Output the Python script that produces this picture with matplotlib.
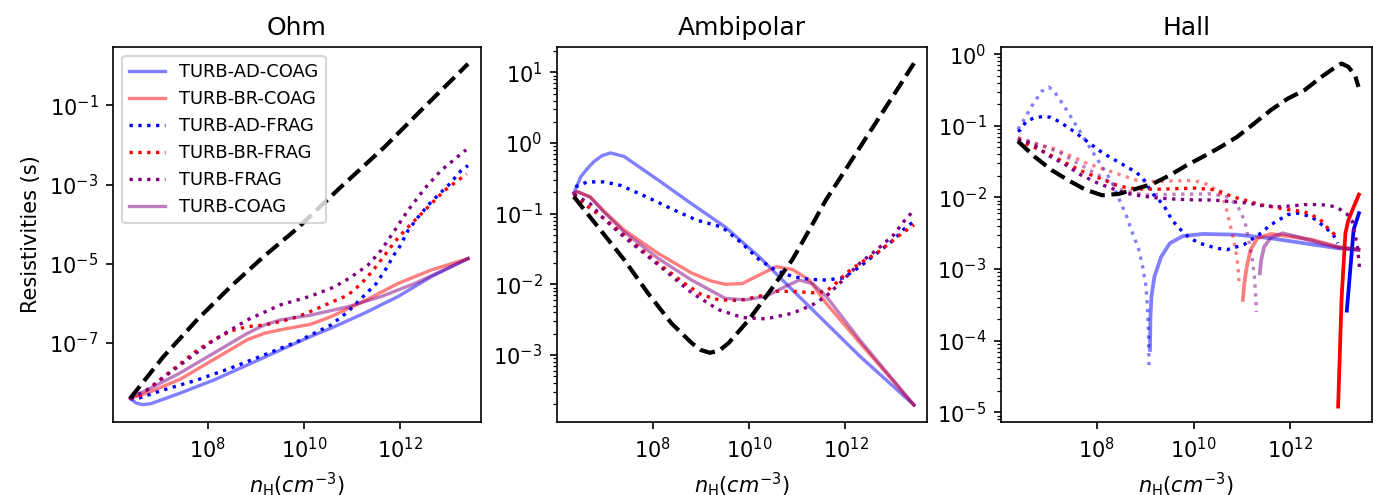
import numpy as np
import matplotlib
matplotlib.use("Agg")
import matplotlib.pyplot as plt
from matplotlib.ticker import FixedLocator, NullLocator

# ---------------- data (log10 n_H , log10 resistivity) ----------------
MODELS = ["TURB-AD-COAG", "TURB-BR-COAG", "TURB-AD-FRAG", "TURB-BR-FRAG", "TURB-FRAG", "TURB-COAG"]
COLORS = ["blue", "red", "blue", "red", "purple", "purple"]
ALPHAS = [0.5, 0.5, 1.0, 1.0, 1.0, 0.5]
STYLES = ["-", "-", ":", ":", ":", "-"]

# --- Ohm ---
OHM_REF_X = [6.38, 7.07, 7.77, 8.47, 9.16, 9.86, 10.77, 11.68, 12.51, 13.42]
OHM_REF_Y = [-8.40, -7.35, -6.42, -5.58, -4.82, -4.11, -3.06, -2.05, -1.04, 0.05]
OHM_AD_COAG_X = [6.38, 6.50, 6.63, 6.80, 7.08, 7.42, 8.12, 8.82, 9.51, 10.14, 10.56, 11.26, 11.96, 12.65, 13.42]
OHM_AD_COAG_Y = [-8.40, -8.52, -8.56, -8.54, -8.42, -8.27, -7.94, -7.56, -7.18, -6.84, -6.63, -6.25, -5.83, -5.33, -4.87]
OHM_BR_COAG_X = [6.38, 6.73, 7.42, 8.12, 8.82, 9.17, 9.51, 10.14, 10.56, 11.26, 11.96, 12.65, 13.42]
OHM_BR_COAG_Y = [-8.40, -8.27, -7.92, -7.42, -6.92, -6.76, -6.67, -6.53, -6.34, -5.94, -5.50, -5.16, -4.87]
OHM_AD_FRAG_X = [6.38, 6.55, 7.07, 7.77, 8.47, 9.16, 9.86, 10.56, 10.91, 11.26, 11.50, 11.71, 11.89, 11.99, 12.17, 12.38, 12.65, 13.04, 13.28, 13.42]
OHM_AD_FRAG_Y = [-8.42, -8.40, -8.19, -7.94, -7.64, -7.31, -6.97, -6.55, -6.22, -5.80, -5.51, -5.13, -4.75, -4.58, -4.16, -3.82, -3.44, -2.98, -2.64, -2.52]
OHM_BR_FRAG_X = [6.38, 6.56, 7.08, 7.43, 7.78, 8.12, 8.47, 8.82, 9.17, 9.52, 9.87, 10.21, 10.56, 10.91, 11.19, 11.44, 11.68, 11.89, 12.10, 12.38, 12.65, 12.93, 13.39]
OHM_BR_FRAG_Y = [-8.40, -8.36, -7.85, -7.52, -7.18, -6.93, -6.70, -6.59, -6.55, -6.46, -6.34, -6.17, -5.98, -5.80, -5.51, -5.17, -4.79, -4.45, -4.16, -3.82, -3.49, -3.15, -2.73]
OHM_TURB_FRAG_X = [6.38, 6.73, 7.42, 8.12, 8.82, 9.51, 10.14, 10.63, 10.98, 11.33, 11.61, 11.89, 12.17, 12.51, 12.86, 13.32, 13.38]
OHM_TURB_FRAG_Y = [-8.40, -8.19, -7.56, -6.93, -6.42, -6.04, -5.82, -5.59, -5.34, -5.04, -4.66, -4.16, -3.65, -3.11, -2.64, -2.18, -2.12]
OHM_TURB_COAG_X = [6.38, 6.73, 7.42, 8.12, 8.82, 9.17, 9.51, 10.14, 10.91, 11.61, 12.31, 13.42]
OHM_TURB_COAG_Y = [-8.40, -8.19, -7.76, -7.26, -6.76, -6.55, -6.42, -6.30, -6.09, -5.83, -5.50, -4.87]

# --- Ambipolar ---
AMB_REF_X = [6.37, 6.92, 7.41, 7.90, 8.39, 8.81, 9.0, 9.19, 9.38, 9.58, 10.0, 10.41, 10.90, 11.25, 11.60, 12.30, 13.00, 13.42]
AMB_REF_Y = [-0.76, -1.23, -1.65, -2.12, -2.55, -2.83, -2.93, -2.97, -2.94, -2.83, -2.50, -2.12, -1.65, -1.23, -0.80, -0.06, 0.68, 1.13]
AMB_AD_COAG_X = [6.37, 6.51, 6.65, 6.79, 6.95, 7.13, 7.41, 8.11, 8.81, 9.51, 10.21, 10.90, 11.60, 12.30, 13.42]
AMB_AD_COAG_Y = [-0.71, -0.48, -0.36, -0.26, -0.18, -0.14, -0.19, -0.52, -0.86, -1.19, -1.61, -2.08, -2.55, -3.02, -3.71]
AMB_BR_COAG_X = [6.37, 6.45, 6.71, 7.0, 7.41, 8.11, 8.81, 9.2, 9.51, 9.86, 10.21, 10.56, 10.90, 11.25, 11.60, 12.30, 13.42]
AMB_BR_COAG_Y = [-0.71, -0.69, -0.76, -0.97, -1.23, -1.56, -1.84, -1.95, -2.0, -1.99, -1.87, -1.75, -1.79, -1.94, -2.27, -2.83, -3.71]
AMB_AD_FRAG_X = [6.40, 6.65, 6.99, 7.34, 7.87, 8.39, 8.91, 9.44, 9.82, 10.21, 10.55, 10.90, 11.25, 11.60, 11.95, 12.30, 12.65, 13.00, 13.21, 13.42]
AMB_AD_FRAG_Y = [-0.62, -0.55, -0.55, -0.60, -0.76, -0.93, -1.09, -1.19, -1.40, -1.65, -1.80, -1.89, -1.93, -1.94, -1.91, -1.75, -1.56, -1.37, -1.22, -1.11]
AMB_BR_FRAG_X = [6.37, 6.58, 7.0, 7.41, 8.11, 8.67, 9.02, 9.37, 9.79, 10.21, 10.56, 10.90, 11.32, 11.60, 11.81, 12.02, 12.30, 12.65, 13.00, 13.21, 13.42]
AMB_BR_FRAG_Y = [-0.73, -0.86, -1.07, -1.30, -1.70, -1.99, -2.15, -2.22, -2.23, -2.17, -2.10, -2.10, -2.12, -2.10, -1.98, -1.84, -1.70, -1.56, -1.37, -1.26, -1.16]
AMB_TURB_FRAG_X = [6.37, 6.71, 7.0, 7.41, 8.11, 8.81, 9.37, 9.86, 10.35, 10.90, 11.32, 11.60, 11.95, 12.30, 12.65, 13.00, 13.21, 13.42]
AMB_TURB_FRAG_Y = [-0.73, -0.86, -1.08, -1.33, -1.72, -2.12, -2.36, -2.47, -2.49, -2.41, -2.29, -2.17, -1.94, -1.70, -1.51, -1.30, -1.11, -0.95]
AMB_TURB_COAG_X = [6.37, 6.45, 6.71, 7.0, 7.41, 8.11, 8.81, 9.51, 9.93, 10.35, 10.76, 11.04, 11.32, 11.60, 12.30, 13.42]
AMB_TURB_COAG_Y = [-0.71, -0.69, -0.77, -0.98, -1.26, -1.63, -1.94, -2.20, -2.22, -2.17, -2.03, -1.94, -1.99, -2.17, -2.79, -3.71]

# --- Hall (|eta_H|; dotted = negative branch, solid = positive branch) ---
HALL_REF_X = [6.37, 6.72, 7.07, 7.41, 7.76, 8.11, 8.46, 8.81, 9.16, 9.51, 9.86, 10.20, 10.55, 10.90, 11.25, 11.60, 11.95, 12.30, 12.64, 12.99, 13.06, 13.20, 13.34, 13.41]
HALL_REF_Y = [-1.215, -1.434, -1.62, -1.76, -1.89, -1.97, -1.95, -1.88, -1.81, -1.69, -1.55, -1.43, -1.30, -1.155, -0.97, -0.78, -0.62, -0.50, -0.32, -0.154, -0.131, -0.177, -0.294, -0.457]

HALL_AD_COAG_NEG_X = [6.37, 6.47, 6.65, 6.86, 7.01, 7.13, 7.30, 7.47, 7.68, 7.89, 8.10, 8.31, 8.46, 8.62, 8.74, 8.87, 8.95, 9.02, 9.05, 9.07, 9.08]
HALL_AD_COAG_NEG_Y = [-1.05, -0.945, -0.73, -0.52, -0.46, -0.53, -0.70, -0.88, -1.11, -1.34, -1.56, -1.78, -2.02, -2.27, -2.50, -2.73, -2.97, -3.25, -3.57, -3.90, -4.36]
HALL_AD_COAG_POS_X = [9.10, 9.11, 9.13, 9.19, 9.33, 9.51, 9.78, 10.20, 10.90, 11.60, 12.29, 12.99, 13.41]
HALL_AD_COAG_POS_Y = [-4.13, -3.66, -3.39, -3.11, -2.83, -2.64, -2.54, -2.51, -2.52, -2.57, -2.64, -2.71, -2.73]

HALL_BR_COAG_NEG_X = [6.37, 6.54, 6.72, 7.08, 7.43, 7.78, 8.30, 8.82, 9.21, 9.55, 9.94, 10.11, 10.32, 10.46, 10.60, 10.67, 10.75, 10.83, 10.90, 10.93, 10.95]
HALL_BR_COAG_NEG_Y = [-1.17, -1.20, -1.25, -1.31, -1.41, -1.52, -1.64, -1.76, -1.78, -1.77, -1.765, -1.78, -1.825, -1.895, -1.99, -2.13, -2.36, -2.59, -2.85, -3.06, -3.25]
HALL_BR_COAG_POS_X = [11.02, 11.05, 11.10, 11.18, 11.32, 11.60, 11.95, 12.44, 12.99, 13.41]
HALL_BR_COAG_POS_Y = [-3.43, -3.20, -2.97, -2.73, -2.57, -2.51, -2.54, -2.59, -2.69, -2.73]

HALL_AD_FRAG_NEG_X = [6.37, 6.42, 6.54, 6.69, 6.87, 7.04, 7.22, 7.53, 7.85, 8.13, 8.47, 8.79, 8.93, 9.16, 9.38, 9.55, 9.69, 9.82, 9.96, 10.13, 10.48, 10.69, 11.04, 11.35, 11.60, 11.95, 12.15, 12.44, 12.71, 12.89, 12.98]
HALL_AD_FRAG_NEG_Y = [-1.08, -1.057, -0.94, -0.894, -0.871, -0.88, -0.94, -1.08, -1.243, -1.383, -1.514, -1.64, -1.71, -1.95, -2.105, -2.31, -2.42, -2.51, -2.58, -2.64, -2.71, -2.73, -2.66, -2.52, -2.38, -2.24, -2.22, -2.27, -2.41, -2.52, -2.64]
HALL_AD_FRAG_POS_X = [13.17, 13.31, 13.42]
HALL_AD_FRAG_POS_Y = [-3.58, -2.45, -2.22]

HALL_BR_FRAG_NEG_X = [6.37, 6.54, 6.90, 7.36, 7.71, 8.05, 8.40, 8.65, 9.00, 9.35, 9.69, 10.04, 10.46, 10.81, 11.17, 11.37, 11.53, 11.95, 12.29, 12.61, 12.75, 12.92, 12.97]
HALL_BR_FRAG_NEG_Y = [-1.19, -1.25, -1.36, -1.52, -1.64, -1.73, -1.825, -1.87, -1.885, -1.885, -1.877, -1.87, -1.895, -1.99, -2.06, -2.10, -2.12, -2.17, -2.20, -2.30, -2.41, -2.52, -2.57]
HALL_BR_FRAG_POS_X = [12.99, 13.06, 13.14, 13.20, 13.30, 13.42]
HALL_BR_FRAG_POS_Y = [-4.92, -3.43, -2.50, -2.32, -2.15, -1.96]

HALL_TURB_FRAG_NEG_X = [6.37, 6.54, 6.72, 7.04, 7.36, 7.67, 8.02, 8.54, 8.93, 9.28, 9.66, 10.04, 10.39, 10.81, 11.16, 11.35, 11.74, 12.02, 12.29, 12.64, 12.85, 12.97, 13.17, 13.28, 13.39, 13.43]
HALL_TURB_FRAG_NEG_Y = [-1.20, -1.22, -1.28, -1.43, -1.546, -1.686, -1.80, -1.933, -1.98, -2.01, -2.025, -2.035, -2.035, -2.06, -2.08, -2.11, -2.13, -2.12, -2.10, -2.10, -2.12, -2.14, -2.23, -2.33, -2.69, -2.97]

HALL_TURB_COAG_NEG_X = [6.37, 6.7, 7.0, 7.25, 7.60, 8.09, 8.51, 9.0, 9.69, 10.39, 10.74, 10.92, 11.00, 11.07, 11.14, 11.21, 11.26, 11.29, 11.30]
HALL_TURB_COAG_NEG_Y = [-1.17, -1.24, -1.31, -1.38, -1.52, -1.71, -1.895, -1.965, -1.955, -1.95, -2.0, -2.13, -2.24, -2.36, -2.59, -2.83, -3.11, -3.43, -3.60]
HALL_TURB_COAG_POS_X = [11.37, 11.40, 11.46, 11.60, 11.84, 12.15, 12.64, 13.0, 13.41]
HALL_TURB_COAG_POS_Y = [-3.06, -2.87, -2.69, -2.56, -2.50, -2.55, -2.64, -2.70, -2.73]

# ---------------- figure ----------------
fig = plt.figure(figsize=(13.73 / 1.5, 4.95 / 1.5), dpi=150)
W, H = 1373.0, 495.0
def box(l, r, t=47, b=422):
    return [l / W, 1 - b / H, (r - l) / W, (b - t) / H]

ax_ohm = fig.add_axes(box(113, 481))
ax_amb = fig.add_axes(box(557, 927))
ax_hal = fig.add_axes(box(1001, 1372))

def p(ax, xs, ys, **kw):
    ax.plot(10 ** np.asarray(xs), 10 ** np.asarray(ys), **kw)

LW = 1.6
ohm_series = [(OHM_AD_COAG_X, OHM_AD_COAG_Y), (OHM_BR_COAG_X, OHM_BR_COAG_Y),
              (OHM_AD_FRAG_X, OHM_AD_FRAG_Y), (OHM_BR_FRAG_X, OHM_BR_FRAG_Y),
              (OHM_TURB_FRAG_X, OHM_TURB_FRAG_Y), (OHM_TURB_COAG_X, OHM_TURB_COAG_Y)]
amb_series = [(AMB_AD_COAG_X, AMB_AD_COAG_Y), (AMB_BR_COAG_X, AMB_BR_COAG_Y),
              (AMB_AD_FRAG_X, AMB_AD_FRAG_Y), (AMB_BR_FRAG_X, AMB_BR_FRAG_Y),
              (AMB_TURB_FRAG_X, AMB_TURB_FRAG_Y), (AMB_TURB_COAG_X, AMB_TURB_COAG_Y)]

for i, (xs, ys) in enumerate(ohm_series):
    p(ax_ohm, xs, ys, color=COLORS[i], alpha=ALPHAS[i], ls=STYLES[i], lw=LW, label=MODELS[i])
p(ax_ohm, OHM_REF_X, OHM_REF_Y, color="k", ls="--", lw=2)

for i, (xs, ys) in enumerate(amb_series):
    p(ax_amb, xs, ys, color=COLORS[i], alpha=ALPHAS[i], ls=STYLES[i], lw=LW)
p(ax_amb, AMB_REF_X, AMB_REF_Y, color="k", ls="--", lw=2)

hall_neg = [(HALL_AD_COAG_NEG_X, HALL_AD_COAG_NEG_Y), (HALL_BR_COAG_NEG_X, HALL_BR_COAG_NEG_Y),
            (HALL_AD_FRAG_NEG_X, HALL_AD_FRAG_NEG_Y), (HALL_BR_FRAG_NEG_X, HALL_BR_FRAG_NEG_Y),
            (HALL_TURB_FRAG_NEG_X, HALL_TURB_FRAG_NEG_Y), (HALL_TURB_COAG_NEG_X, HALL_TURB_COAG_NEG_Y)]
hall_pos = [(HALL_AD_COAG_POS_X, HALL_AD_COAG_POS_Y), (HALL_BR_COAG_POS_X, HALL_BR_COAG_POS_Y),
            (HALL_AD_FRAG_POS_X, HALL_AD_FRAG_POS_Y), (HALL_BR_FRAG_POS_X, HALL_BR_FRAG_POS_Y),
            None, (HALL_TURB_COAG_POS_X, HALL_TURB_COAG_POS_Y)]
for i in range(6):
    xs, ys = hall_neg[i]
    p(ax_hal, xs, ys, color=COLORS[i], alpha=ALPHAS[i], ls=":", lw=LW)
    if hall_pos[i] is not None:
        xs, ys = hall_pos[i]
        p(ax_hal, xs, ys, color=COLORS[i], alpha=ALPHAS[i], ls="-", lw=LW + 0.2)
p(ax_hal, HALL_REF_X, HALL_REF_Y, color="k", ls="--", lw=2)

for ax, title, ylim in [(ax_ohm, "Ohm", (10 ** -9.0, 10 ** 0.476)),
                        (ax_amb, "Ambipolar", (10 ** -3.95, 10 ** 1.36)),
                        (ax_hal, "Hall", (10 ** -5.135, 10 ** 0.10))]:
    ax.set_xscale("log")
    ax.set_yscale("log")
    ax.set_xlim(10 ** 6.02, 10 ** 13.69)
    ax.set_ylim(*ylim)
    ax.set_title(title, fontsize=12)
    ax.set_xlabel(r"$n_{\rm H} (cm^{-3})$", fontsize=10)
    ax.tick_params(labelsize=10)
    ax.xaxis.set_major_locator(FixedLocator([1e8, 1e10, 1e12]))
    ax.xaxis.set_minor_locator(NullLocator())

ax_ohm.yaxis.set_major_locator(FixedLocator([1e-7, 1e-5, 1e-3, 1e-1]))
ax_ohm.yaxis.set_minor_locator(NullLocator())

ax_ohm.set_ylabel("Resistivities (s)", fontsize=10)
ax_ohm.legend(loc="upper left", fontsize=8.6)

fig.savefig("out.png", dpi=150)
